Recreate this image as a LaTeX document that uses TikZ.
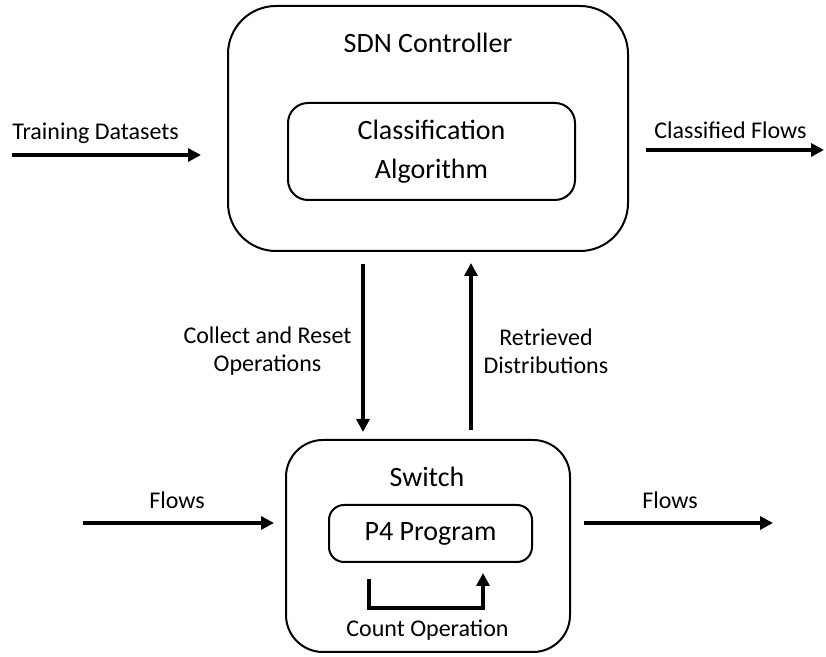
\documentclass[tikz,border=0pt]{standalone}
\usepackage{fontspec}
\setmainfont{Carlito}
\usetikzlibrary{shapes.geometric, arrows.meta, positioning}

\begin{document}
\begin{tikzpicture}[x=0.5pt,y=-0.5pt]
        \tikzstyle{outerbox} = [rectangle, rounded corners=24pt, draw=black, line width=1pt];
        \tikzstyle{innerbox} = [rectangle, rounded corners=10pt, draw=black, line width=1pt, text centered, align=center, font=\fontsize{14}{19.5}\selectfont];
        \tikzstyle{boxtitle} = [inner sep=0pt, font=\fontsize{14}{17}\selectfont];
        \tikzstyle{annot} = [inner sep=0pt, align=center, font=\fontsize{12}{14}\selectfont];
        \tikzstyle{arrow} = [line width=2pt, -{Triangle[length=6.5pt,width=6.5pt]}];

        \useasboundingbox (0,0) rectangle (826,657);

        % controller
        \node(controller) [outerbox, minimum width=200pt, minimum height=122.5pt] at (428,128.5) {};
        \node(ctitle) [boxtitle] at (428,43) {SDN Controller};
        \node(classifier) [innerbox, minimum width=143.5pt, minimum height=48.5pt] at (431.5,151.5) {Classification\\Algorithm};

        % switch
        \node(switch) [outerbox, rounded corners=18.5pt, minimum width=142pt, minimum height=106pt] at (428,546) {};
        \node(stitle) [boxtitle] at (427,477) {Switch};
        \node(p4) [innerbox, rounded corners=7.5pt, minimum width=101.5pt, minimum height=28.5pt] at (430.5,533.5) {P4 Program};
        \node(count) [annot] at (427.5,630) {Count Operation};

        % free ends
        \coordinate (trainin) at (12,155);
        \coordinate (classout) at (824,150);
        \coordinate (flowin) at (83,523);
        \coordinate (flowout) at (773,523);

        \node(traintxt) [annot, anchor=west] at (12,133) {Training Datasets};
        \node(classtxt) [annot, anchor=west] at (654,130) {Classified Flows};
        \node(flowintxt) [annot] at (177,500) {Flows};
        \node(flowouttxt) [annot] at (670,500) {Flows};
        \node(collecttxt) [annot] at (267.5,351) {Collect and Reset\\Operations};
        \node(retrievetxt) [annot] at (546,351) {Retrieved\\Distributions};

        \draw[arrow, shorten >=13pt] (trainin) -- (trainin -| controller.west);
        \draw[arrow, shorten <=8.5pt] (controller.east |- classout) -- (classout);
        \draw[arrow, shorten <=6pt, shorten >=3.5pt] ([xshift=-32.5pt]controller.south) -- ([xshift=-32.5pt]controller.south |- switch.north);
        \draw[arrow, shorten <=4.5pt, shorten >=5.5pt] ([xshift=21.5pt]controller.south |- switch.north) -- ([xshift=21.5pt]controller.south);
        \draw[arrow, shorten >=5.5pt] (flowin) -- (flowin -| switch.west);
        \draw[arrow, shorten <=6.5pt] (switch.east |- flowout) -- (flowout);
        \draw[arrow] ([xshift=-30.75pt,yshift=-8pt]p4.south) |- ([xshift=26.25pt,yshift=-22.5pt]p4.south) -- ([xshift=26.25pt,yshift=-5pt]p4.south);

    \end{tikzpicture}
\end{document}
